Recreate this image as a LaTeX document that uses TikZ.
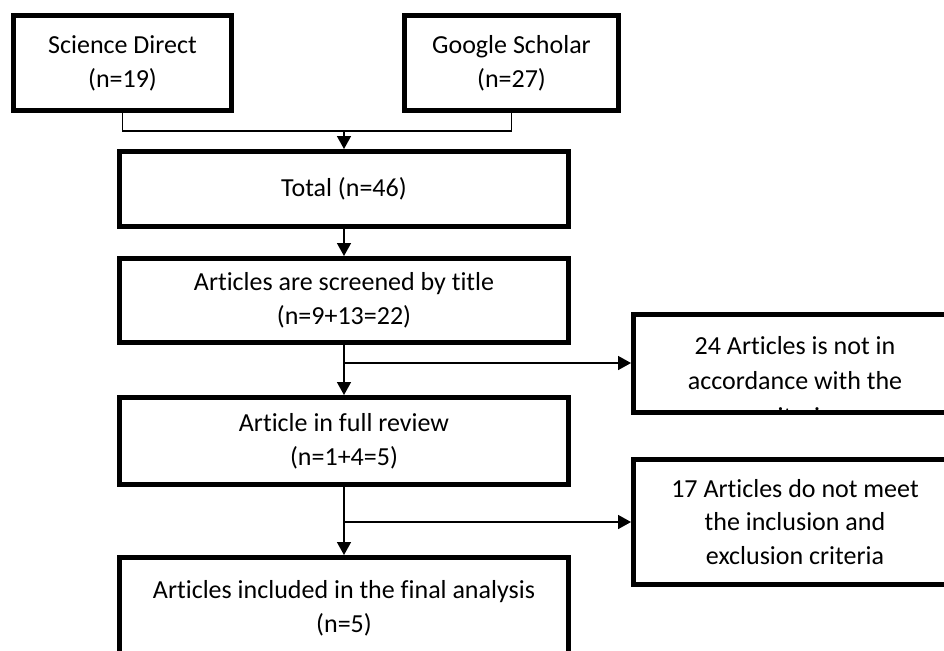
\documentclass[tikz,border=0pt]{standalone}
\usepackage{fontspec}
\setmainfont[Ligatures=NoCommon]{Carlito}
\usepackage{tikz}
\usetikzlibrary{arrows.meta}

\begin{document}
\begin{tikzpicture}[x=0.02cm, y=-0.02cm,
	box/.style={draw, line width=0.1cm, align=center, inner sep=0pt,
		font=\fontsize{14.8}{19.3}\selectfont},
	link/.style={line width=0.03cm},
	arr/.style={link, -{Triangle[length=0.26cm, width=0.28cm]}}]
	\clip (0,0) rectangle (944,650);
	%
	\node[box, minimum width=4.36cm, minimum height=1.9cm] (sd) at (122.5,63) {Science Direct\\(n=19)};
	\node[box, minimum width=4.28cm, minimum height=1.9cm] (gs) at (511.5,63) {Google Scholar\\(n=27)};
	\node[box, minimum width=8.98cm, minimum height=1.5cm] (total) at (344,189) {Total (n=46)};
	\node[box, minimum width=8.98cm, minimum height=1.68cm] (screened) at (344,300.5) {Articles are screened by title\\(n=9+13=22)};
	\node[box, minimum width=8.98cm, minimum height=1.74cm] (full) at (344,441) {Article in full review\\(n=1+4=5)};
	\node[box, minimum width=8.98cm, minimum height=2.04cm] (final) at (344,608.5) {Articles included in the final analysis\\(n=5)};
	\node[box, minimum width=6.46cm, minimum height=2.5cm] (excl2) at (795,522) {17 Articles do not meet\\the inclusion and\\exclusion criteria};
	% text of the first excluded box runs past its bottom edge
	\begin{scope}
		\clip (633.5,314.5) rectangle (956.5,412.5);
		\node[align=center, font=\fontsize{14.8}{20}\selectfont] (excl1txt) at (795,381) {24 Articles is not in\\accordance with the\\criteria};
	\end{scope}
	\node[box, minimum width=6.46cm, minimum height=1.96cm] (excl1) at (795,363.5) {};
	%
	\coordinate (join) at (344,131);
	\coordinate (br1) at (344,363);
	\coordinate (br2) at (344,522);
	\draw[link] (sd.south) |- (join) -| (gs.south);
	\draw[arr] (join) -- (total.north);
	\draw[arr] (total.south) -- (screened.north);
	\draw[arr] (screened.south) -- (full.north);
	\draw[arr] (br1) -- (br1 -| excl1.west);
	\draw[arr] (full.south) -- (final.north);
	\draw[arr] (br2) -- (br2 -| excl2.west);
\end{tikzpicture}
\end{document}
